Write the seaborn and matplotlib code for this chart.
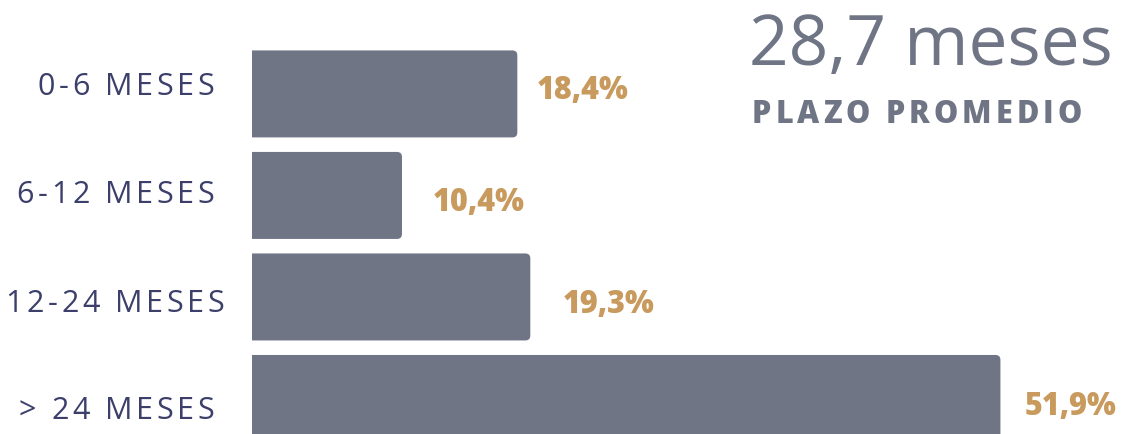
import matplotlib
matplotlib.use("Agg")
import matplotlib.pyplot as plt
import seaborn as sns
import pandas as pd
from matplotlib.patches import FancyBboxPatch

categories = ["0-6 MESES", "6-12 MESES", "12-24 MESES", "> 24 MESES"]
values = [18.4, 10.4, 19.3, 51.9]
value_labels = ["18,4%", "10,4%", "19,3%", "51,9%"]
headline = "28,7 meses"
subheadline = "PLAZO PROMEDIO"

bar_color = "#6f7585"
cat_color = "#3b3f6a"
val_color = "#c99a5e"

# label placement tweaks (pixels)
cat_dx = [0, 0, 10, 0]
cat_dy = [0, 7, 14, 20]
val_dx = [19, 31, 32, 24]
val_dy = [4.5, 14.5, 15.5, 15.5]

sns.set_theme(style="white")
plt.rcParams["font.family"] = ["Open Sans", "DejaVu Sans"]

W, H = 1123, 435
fig = plt.figure(figsize=(W / 100, H / 100), dpi=100)
ax = fig.add_axes([252 / W, 0, 1 - 252 / W, 1])

df = pd.DataFrame({"plazo": categories, "pct": values})
sns.barplot(data=df, x="pct", y="plazo", orient="h", color=bar_color,
            width=0.857, saturation=1, ax=ax)

ax.set_xlim(0, 60.4)
ax.set_ylim(3.35, -0.935)
sns.despine(ax=ax, left=True, bottom=True)
ax.set_xticks([])
ax.set_yticks([])
ax.set_xlabel("")
ax.set_ylabel("")

fig.canvas.draw()
renderer = fig.canvas.get_renderer()

# rounded right corners
inv = ax.transData.inverted()
(x0, y0), (x1, y1) = inv.transform([(0, 0), (1, 1)])
aspect = abs(y1 - y0) / abs(x1 - x0)
r = 5 * abs(x1 - x0)
for p in list(ax.patches):
    x, y, w, h = p.get_x(), p.get_y(), p.get_width(), p.get_height()
    p.set_visible(False)
    ax.add_patch(FancyBboxPatch((x - 2, y), w + 2, h,
                                boxstyle=f"round,pad=0,rounding_size={r}",
                                mutation_aspect=aspect, fc=bar_color, ec="none"))


def measure(s, **kw):
    t = fig.text(0, 0, s, **kw)
    w = t.get_window_extent(renderer).width
    t.remove()
    return w


def spaced(x, y, s, track, ha="left", **kw):
    # letter-spaced text; x, y in pixels from the top-left, y = baseline
    total = measure(s, **kw) + track * (len(s) - 1)
    start = x - total if ha == "right" else x
    for i, ch in enumerate(s):
        if not ch.strip():
            continue
        dx = measure(s[:i + 1], **kw) - measure(ch, **kw) + i * track
        fig.text((start + dx) / W, 1 - y / H, ch, va="baseline", **kw)


for i, cat in enumerate(categories):
    cy = H - ax.transData.transform((0, i))[1]
    spaced(214 + cat_dx[i], cy + cat_dy[i], cat, 3.6, ha="right",
           fontsize=22, color=cat_color)

for i, (v, lab) in enumerate(zip(values, value_labels)):
    ax.annotate(lab, (v, i), xytext=(val_dx[i] * 0.72, -val_dy[i] * 0.72),
                textcoords="offset points", ha="left", va="baseline",
                fontsize=22, fontweight="heavy", color=val_color)

fig.text(749 / W, 1 - 65 / H, headline, fontsize=50, color=bar_color,
         fontweight="medium", ha="left", va="baseline")
spaced(752, 123, subheadline, 4.0, fontsize=22, fontweight="heavy",
       color=bar_color)

fig.savefig("out.png", dpi=100)
